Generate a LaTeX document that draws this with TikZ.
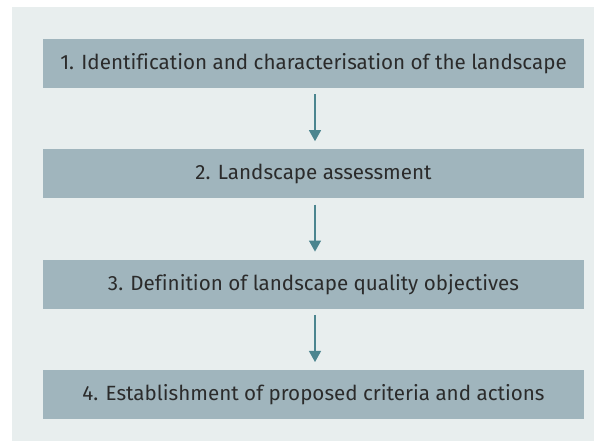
\documentclass[tikz,border=0pt]{standalone}
\usepackage{fontspec}
\setmainfont[Ligatures=NoCommon]{Fira Sans}
\usepackage{tikz}
\usetikzlibrary{positioning,arrows.meta}
\definecolor{panelgrey}{HTML}{E8EEEE}
\definecolor{stepgrey}{HTML}{A0B5BD}
\definecolor{arrowteal}{HTML}{4B858F}
\definecolor{textdark}{HTML}{2B2B2B}

\begin{document}
\begin{tikzpicture}[x=1pt,y=1pt,
                    stagebox/.style={rectangle,fill=stepgrey,text=textdark,minimum width=541pt,minimum height=49pt,inner sep=0pt,font=\fontsize{20.6}{22}\selectfont},
                    flow/.style={draw=arrowteal,line width=1.2pt,-{Triangle[width=12pt,length=11pt]},shorten <=6pt,shorten >=8pt}
                ]
                    \useasboundingbox (0,0) rectangle (594,441);
                    \fill[panelgrey] (12,0) rectangle (594,434);
                    \node[stagebox] (s1) at (313.5,377.5) {1. Identification and characterisation of the landscape};
                    \node[stagebox,below=61pt of s1] (s2) {2. Landscape assessment};
                    \node[stagebox,below=61pt of s2] (s3) {3. Definition of landscape quality objectives};
                    \node[stagebox,below=61pt of s3] (s4) {4. Establishment of proposed criteria and actions};
                    \foreach \a/\b in {s1/s2,s2/s3,s3/s4}
                        {
                        \draw[flow] ([xshift=1.5pt]\a.south) -- ([xshift=1.5pt]\b.north);
                    }
                \end{tikzpicture}
\end{document}
